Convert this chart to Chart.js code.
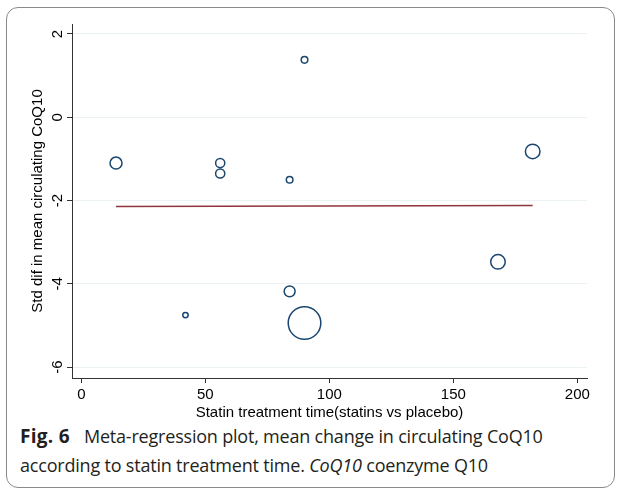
<!DOCTYPE html>
<html>
<head>
<meta charset="utf-8">
<script src="https://cdn.jsdelivr.net/npm/chart.js@4"></script>
<style>
    html, body { margin: 0; padding: 0; background: #fff; }
    body { width: 621px; height: 492px; position: relative; overflow: hidden; }
    .frame {
        position: absolute; left: 6px; top: 7px; width: 607px; height: 479px;
        border: 1px solid #8a8a8a; border-radius: 12px;
    }
    #wrap { position: absolute; left: 0; top: 0; width: 621px; height: 422px; }
    .caption {
        position: absolute; left: 20px; top: 422px; width: 590px;
        font-family: "Open Sans", sans-serif; font-size: 18px; line-height: 29px; color: #231f20;
        letter-spacing: -0.2px;
    }
    .caption b { font-weight: 700; font-size: 19px; letter-spacing: 0.3px; margin-right: 5px; }
</style>
</head>
<body>
<div class="frame"></div>
<div id="wrap"><canvas id="chart"></canvas></div>
<div class="caption"><b>Fig. 6</b>&nbsp; Meta-regression plot, mean change in circulating CoQ10 according to statin treatment time. <i>CoQ10</i> coenzyme Q10</div>

<script>
// study-level points: treatment time (x), std difference (y), relative weight (bubble area)
const studyTime = [14, 56, 56, 84, 84, 42, 90, 182, 168, 90];
const stdDiff = [-1.10, -1.10, -1.35, -1.50, -4.18, -4.75, -4.94, -0.82, -3.47, 1.38];
const studyWeight = [3.6, 2.1, 2.1, 1.1, 3.0, 0.73, 26.6, 5.3, 5.3, 1.1];

// fitted meta-regression line
const fitTime = [14, 182];
const fitValue = [-2.145, -2.12];

const xTicks = [0, 50, 100, 150, 200];
const yTicks = [-6, -4, -2, 0, 2];

const AXIS_FONT = '"Liberation Sans", Arial, sans-serif';

// Stata-style vertical tick labels (rotated, reading upward)
const yTickLabels = {
    id: 'yTickLabels',
    afterDraw(chart) {
        const { ctx, scales: { y } } = chart;
        ctx.save();
        ctx.font = '15px ' + AXIS_FONT;
        ctx.fillStyle = '#000';
        ctx.textAlign = 'center';
        ctx.textBaseline = 'middle';
        for (const v of yTicks) {
            ctx.save();
            ctx.translate(57.5, y.getPixelForValue(v));
            ctx.rotate(-Math.PI / 2);
            ctx.fillText(String(v), 0, 0);
            ctx.restore();
        }
        ctx.restore();
    }
};

new Chart(document.getElementById('chart'), {
    type: 'bubble',
    data: {
        datasets: [{
            label: 'Studies',
            data: studyTime.map((t, i) => ({ x: t, y: stdDiff[i], r: Math.sqrt(studyWeight[i] * 10) })),
            backgroundColor: 'rgba(0,0,0,0)',
            borderColor: '#1a476f',
            borderWidth: 1.5,
            order: 2,
        }, {
            type: 'line',
            label: 'Fit',
            data: fitTime.map((t, i) => ({ x: t, y: fitValue[i] })),
            borderColor: '#90353b',
            borderWidth: 1.5,
            pointRadius: 0,
            fill: false,
            order: 1,
        }]
    },
    options: {
        responsive: true,
        maintainAspectRatio: false,
        animation: false,
        events: [],
        layout: { padding: { left: 0, right: 34, top: 24, bottom: 0 } },
        plugins: { legend: { display: false }, tooltip: { enabled: false } },
        scales: {
            x: {
                type: 'linear',
                min: -3.75,
                max: 203.9,
                afterBuildTicks: s => { s.ticks = xTicks.map(v => ({ value: v })); },
                afterFit: s => { s.height = 44; },
                ticks: { font: { size: 15, family: AXIS_FONT }, color: '#000', padding: 3, maxRotation: 0 },
                grid: { drawOnChartArea: false, drawTicks: true, tickLength: 5, tickColor: '#333' },
                border: { display: true, color: '#333', width: 1 },
                title: {
                    display: true,
                    text: 'Statin treatment time(statins vs placebo)',
                    font: { size: 15, family: AXIS_FONT },
                    color: '#000',
                    padding: { top: 0, bottom: 0 }
                }
            },
            y: {
                type: 'linear',
                min: -6.26,
                max: 2.24,
                afterBuildTicks: s => { s.ticks = yTicks.map(v => ({ value: v })); },
                afterFit: s => { s.width = 72; },
                ticks: { display: false },
                grid: { color: '#eaf2f3', lineWidth: 1, drawTicks: true, tickLength: 5, tickColor: '#333' },
                border: { display: true, color: '#333', width: 1 },
                title: {
                    display: true,
                    text: 'Std dif in mean circulating CoQ10',
                    font: { size: 15, family: AXIS_FONT },
                    color: '#000',
                    padding: { top: 29, bottom: 0 }
                }
            }
        }
    },
    plugins: [yTickLabels]
});
</script>
</body>
</html>
